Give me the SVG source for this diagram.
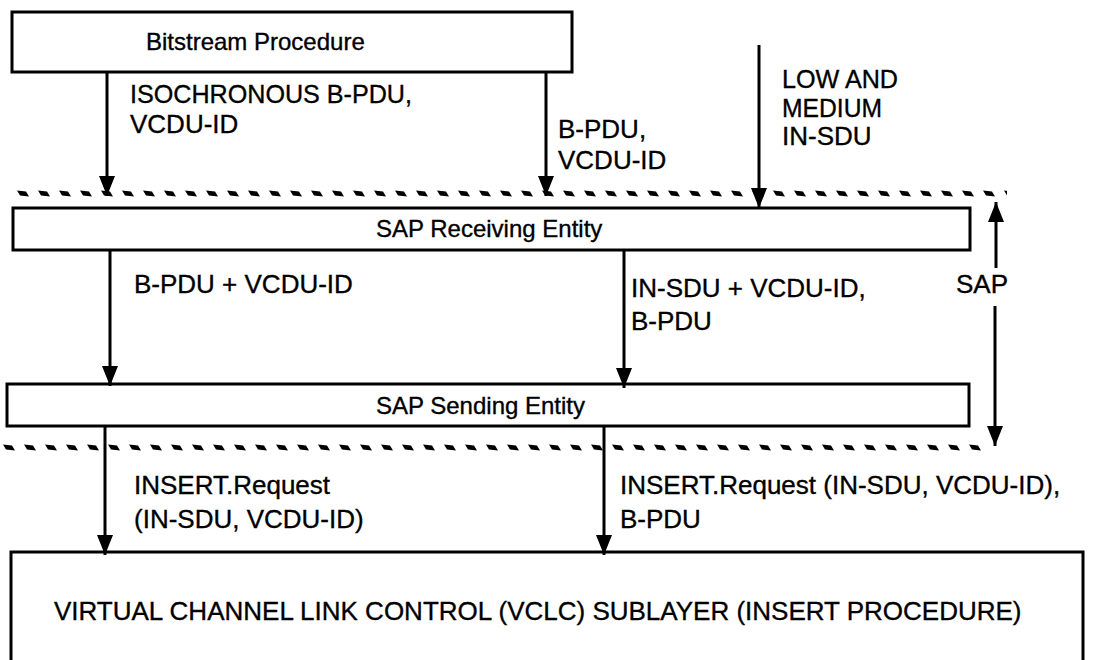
<svg xmlns="http://www.w3.org/2000/svg" width="1105" height="660" viewBox="0 0 1105 660">
  <style>
    .box { fill: #fff; stroke: #000; stroke-width: 3; }
    .wire { stroke: #000; stroke-width: 3; fill: none; }
    .lbl { font-family: "Liberation Sans", Arial, Helvetica, sans-serif; font-size: 26px; fill: #000; stroke: #000; stroke-width: 0.35; }
    .title { font-size: 24px; }
  </style>
  <defs>
    <marker id="head" markerUnits="userSpaceOnUse" markerWidth="20" markerHeight="16" refX="20" refY="8" orient="auto">
      <path d="M0,0 L20,8 L0,16 z" fill="#000"/>
    </marker>
    <!-- slanted dash used for the service access point boundaries -->
    <pattern id="sapDash" patternUnits="userSpaceOnUse" width="21" height="10">
      <polygon points="0,1.5 9,2.5 12,7.5 3,6.5" fill="#000"/>
    </pattern>
  </defs>

  <rect width="1105" height="660" fill="#fff"/>

  <!-- SAP boundaries -->
  <g id="sap-boundaries">
    <g transform="translate(17,189)"><rect width="990" height="10" fill="url(#sapDash)"/></g>
    <g transform="translate(3,443)"><rect width="980" height="10" fill="url(#sapDash)"/></g>
  </g>

  <g id="bitstream">
    <rect class="box" x="12" y="12" width="560" height="60"/>
    <text class="lbl title" x="146" y="50">Bitstream Procedure</text>
  </g>

  <g id="sap-receiving">
    <rect class="box" x="13" y="208" width="957" height="42"/>
    <text class="lbl title" x="376" y="237">SAP Receiving Entity</text>
  </g>

  <g id="sap-sending">
    <rect class="box" x="7" y="384" width="962" height="42"/>
    <text class="lbl title" x="376" y="414">SAP Sending Entity</text>
  </g>

  <g id="vclc">
    <rect class="box" x="11" y="552" width="1072" height="130"/>
    <text class="lbl" x="54" y="620">VIRTUAL CHANNEL LINK CONTROL (VCLC) SUBLAYER (INSERT PROCEDURE)</text>
  </g>

  <g id="connectors">
    <line class="wire" x1="107" y1="72" x2="107" y2="196" marker-end="url(#head)"/>
    <line class="wire" x1="546" y1="72" x2="546" y2="196" marker-end="url(#head)"/>
    <line class="wire" x1="759" y1="45" x2="759" y2="208" marker-end="url(#head)"/>
    <line class="wire" x1="110" y1="250" x2="110" y2="386" marker-end="url(#head)"/>
    <line class="wire" x1="624" y1="250" x2="624" y2="388" marker-end="url(#head)"/>
    <line class="wire" x1="105" y1="426" x2="105" y2="555" marker-end="url(#head)"/>
    <line class="wire" x1="604" y1="426" x2="604" y2="555" marker-end="url(#head)"/>
    <line class="wire" x1="996" y1="268" x2="996" y2="202" marker-end="url(#head)"/>
    <line class="wire" x1="995" y1="306" x2="995" y2="446" marker-end="url(#head)"/>
  </g>

  <g id="labels">
    <text class="lbl" x="130" y="103" textLength="282" lengthAdjust="spacingAndGlyphs">ISOCHRONOUS B-PDU,</text>
    <text class="lbl" x="130" y="133">VCDU-ID</text>
    <text class="lbl" x="558" y="138">B-PDU,</text>
    <text class="lbl" x="558" y="169">VCDU-ID</text>
    <text class="lbl" x="782" y="88" textLength="116" lengthAdjust="spacingAndGlyphs">LOW AND</text>
    <text class="lbl" x="782" y="117" textLength="100" lengthAdjust="spacingAndGlyphs">MEDIUM</text>
    <text class="lbl" x="782" y="145">IN-SDU</text>
    <text class="lbl" x="134" y="293">B-PDU + VCDU-ID</text>
    <text class="lbl" x="631" y="297">IN-SDU + VCDU-ID,</text>
    <text class="lbl" x="631" y="330">B-PDU</text>
    <text class="lbl" x="956" y="293">SAP</text>
    <text class="lbl" x="134" y="494">INSERT.Request</text>
    <text class="lbl" x="134" y="528">(IN-SDU, VCDU-ID)</text>
    <text class="lbl" x="620" y="494">INSERT.Request (IN-SDU, VCDU-ID),</text>
    <text class="lbl" x="620" y="528">B-PDU</text>
  </g>
</svg>
